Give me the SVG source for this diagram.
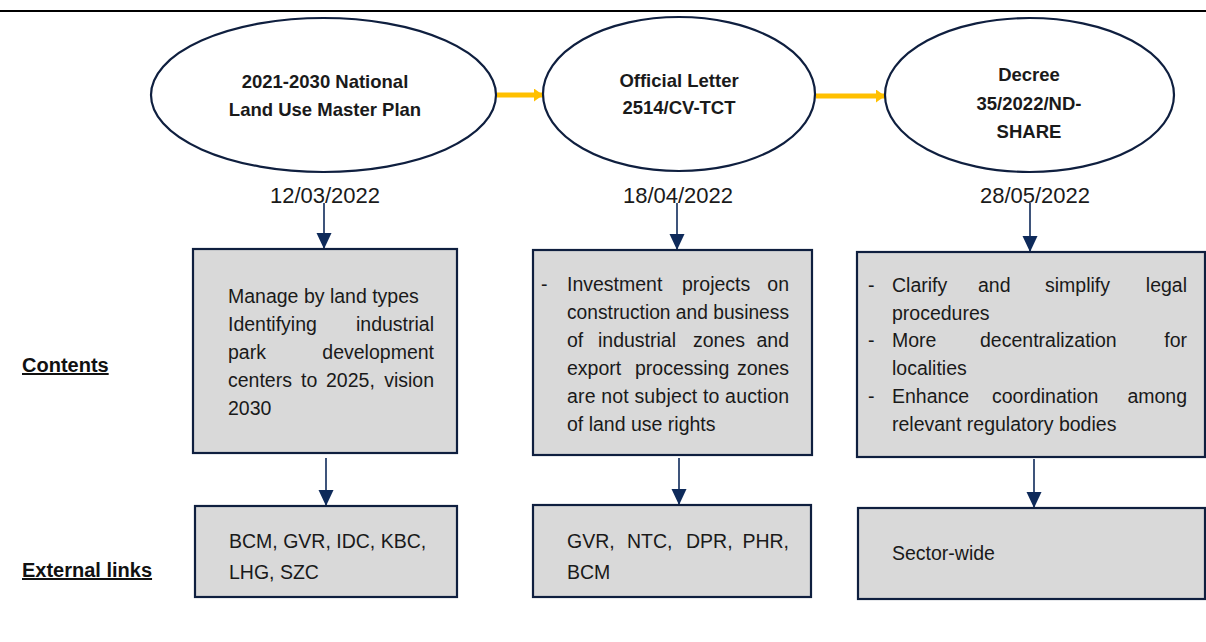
<svg xmlns="http://www.w3.org/2000/svg" width="1206" height="642" viewBox="0 0 1206 642">
<style>
.ell{fill:#ffffff;stroke:#0f1f3f;stroke-width:2.2}
.box{fill:#d9d9d9;stroke:#0f1f3f;stroke-width:2.2}
.t{font-family:"Liberation Sans",Arial,sans-serif;font-size:19.5px;fill:#1a1a1a}
.e{text-anchor:end}
.title{font-family:"Liberation Sans",Arial,sans-serif;font-size:18.5px;font-weight:bold;fill:#1a1a1a;text-anchor:middle}
.date{font-family:"Liberation Sans",Arial,sans-serif;font-size:22px;fill:#1a1a1a;text-anchor:middle}
.lab{font-family:"Liberation Sans",Arial,sans-serif;font-size:20px;font-weight:bold;fill:#111;text-decoration:underline}
.nav{stroke:#0e2a5a;stroke-width:1.6;fill:none}
.yel{stroke:#ffc000;stroke-width:5;fill:none}
</style>
<defs>
<marker id="navHead" markerUnits="userSpaceOnUse" markerWidth="16" markerHeight="16" viewBox="0 0 16 16" refX="16" refY="8" orient="auto">
<path d="M0,0.5 L16,8 L0,15.5 z" fill="#0e2a5a"/>
</marker>
<marker id="yelHead" markerUnits="userSpaceOnUse" markerWidth="9" markerHeight="13" viewBox="0 0 9 13" refX="9" refY="6.5" orient="auto">
<path d="M0,0 L9,6.5 L0,13 z" fill="#ffc000"/>
</marker>
</defs>
<rect x="0" y="0" width="1206" height="642" fill="#ffffff"/>
<line x1="0" y1="11" x2="1206" y2="11" stroke="#000" stroke-width="2"/>

<g id="labels">
<text class="lab" x="22" y="372">Contents</text>
<text class="lab" x="22" y="577">External links</text>
</g>

<g id="connectors">
<line class="yel" x1="497" y1="95" x2="543" y2="95" marker-end="url(#yelHead)"/>
<line class="yel" x1="816" y1="96" x2="885" y2="96" marker-end="url(#yelHead)"/>
<line class="nav" x1="324" y1="203" x2="324" y2="249" marker-end="url(#navHead)"/>
<line class="nav" x1="677" y1="203" x2="677" y2="250" marker-end="url(#navHead)"/>
<line class="nav" x1="1030" y1="203" x2="1030" y2="252" marker-end="url(#navHead)"/>
<line class="nav" x1="326" y1="458" x2="326" y2="506" marker-end="url(#navHead)"/>
<line class="nav" x1="679" y1="458" x2="679" y2="505" marker-end="url(#navHead)"/>
<line class="nav" x1="1034" y1="459" x2="1034" y2="508" marker-end="url(#navHead)"/>
</g>

<g id="plan">
<ellipse class="ell" cx="323.5" cy="95" rx="172.5" ry="77"/>
<text class="title" x="325" y="88">2021-2030 National</text>
<text class="title" x="325" y="116">Land Use Master Plan</text>
<text class="date" x="325" y="203">12/03/2022</text>
</g>

<g id="letter">
<ellipse class="ell" cx="679" cy="94" rx="136" ry="77"/>
<text class="title" x="679" y="87">Official Letter</text>
<text class="title" x="679" y="114">2514/CV-TCT</text>
<text class="date" x="678" y="203">18/04/2022</text>
</g>

<g id="decree">
<ellipse class="ell" cx="1029.5" cy="95" rx="144.5" ry="77"/>
<text class="title" x="1029" y="81">Decree</text>
<text class="title" x="1029" y="110">35/2022/ND-</text>
<text class="title" x="1029" y="138">SHARE</text>
<text class="date" x="1035" y="203">28/05/2022</text>
</g>

<g id="content1">
<rect class="box" x="193" y="249" width="264" height="204"/>
<text class="t" x="228" y="303">Manage by land types</text>
<text class="t" x="228" y="331">Identifying</text>
<text class="t e" x="434" y="331">industrial</text>
<text class="t" x="228" y="359">park</text>
<text class="t e" x="434" y="359">development</text>
<text class="t" y="387"><tspan x="228">centers</tspan><tspan x="301">to</tspan><tspan x="326">2025,</tspan></text>
<text class="t e" x="434" y="387">vision</text>
<text class="t" x="228" y="415">2030</text>
</g>

<g id="content2">
<rect class="box" x="533" y="250" width="279" height="205"/>
<text class="t" x="541" y="291">-</text>
<text class="t" y="291"><tspan x="567">Investment</tspan><tspan x="682">projects</tspan></text>
<text class="t e" x="789" y="291">on</text>
<text class="t" x="567" y="319" textLength="222" lengthAdjust="spacingAndGlyphs">construction and business</text>
<text class="t" y="347"><tspan x="567">of</tspan><tspan x="598">industrial</tspan><tspan x="693">zones</tspan></text>
<text class="t e" x="789" y="347">and</text>
<text class="t" y="375"><tspan x="567">export</tspan><tspan x="635">processing</tspan></text>
<text class="t e" x="789" y="375">zones</text>
<text class="t" x="567" y="403" textLength="222" lengthAdjust="spacing">are not subject to auction</text>
<text class="t" x="567" y="431">of land use rights</text>
</g>

<g id="content3">
<rect class="box" x="857" y="252" width="348" height="205"/>
<text class="t" x="868" y="292">-</text>
<text class="t" y="292"><tspan x="892">Clarify</tspan><tspan x="978">and</tspan><tspan x="1045">simplify</tspan></text>
<text class="t e" x="1187" y="292">legal</text>
<text class="t" x="892" y="320">procedures</text>
<text class="t" x="868" y="347">-</text>
<text class="t" y="347"><tspan x="892">More</tspan><tspan x="980">decentralization</tspan></text>
<text class="t e" x="1187" y="347">for</text>
<text class="t" x="892" y="375">localities</text>
<text class="t" x="868" y="403">-</text>
<text class="t" y="403"><tspan x="892">Enhance</tspan><tspan x="992">coordination</tspan></text>
<text class="t e" x="1187" y="403">among</text>
<text class="t" x="892" y="431">relevant regulatory bodies</text>
</g>

<g id="links1">
<rect class="box" x="195" y="506" width="262" height="91"/>
<text class="t" x="229" y="548">BCM, GVR, IDC, KBC,</text>
<text class="t" x="229" y="579">LHG, SZC</text>
</g>

<g id="links2">
<rect class="box" x="533" y="505" width="278" height="92"/>
<text class="t" y="548"><tspan x="567">GVR,</tspan><tspan x="627">NTC,</tspan><tspan x="686">DPR,</tspan></text>
<text class="t e" x="789" y="548">PHR,</text>
<text class="t" x="567" y="579">BCM</text>
</g>

<g id="links3">
<rect class="box" x="858" y="508" width="347" height="91"/>
<text class="t" x="892" y="560">Sector-wide</text>
</g>
</svg>
